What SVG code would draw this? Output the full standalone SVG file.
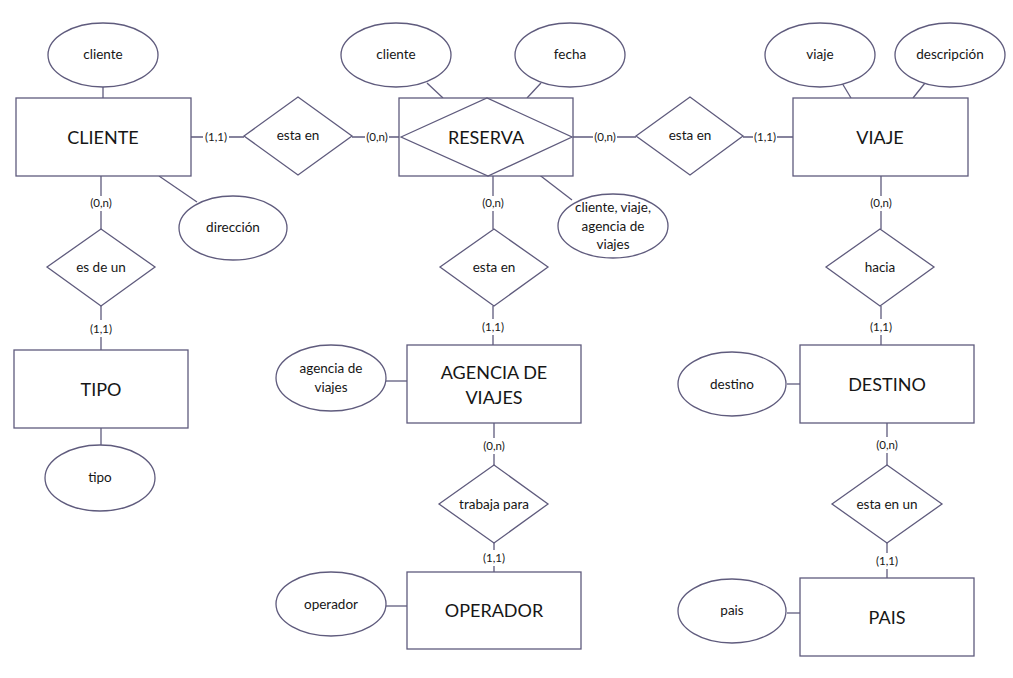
<svg xmlns="http://www.w3.org/2000/svg" width="1013" height="678" viewBox="0 0 1013 678">
<style>
.s{fill:#fff;stroke:#5f5b7d;stroke-width:1.3}
.d{fill:none;stroke:#5f5b7d;stroke-width:1.3}
.c{stroke:#5f5b7d;stroke-width:1.3;fill:none}
text{font-family:Lato,"Liberation Sans",sans-serif;fill:#161616;text-anchor:middle}
.e{font-size:18px}
.a{font-size:13.5px}
.k{font-size:11.5px}
</style>
<rect width="1013" height="678" fill="#fff"/>
<g id="connectors">
<line class="c" x1="103" y1="87" x2="103" y2="98"/>
<line class="c" x1="159" y1="176" x2="197" y2="202"/>
<line class="c" x1="427" y1="83" x2="443" y2="98"/>
<line class="c" x1="541" y1="83" x2="527" y2="98"/>
<line class="c" x1="520" y1="160" x2="572" y2="200"/>
<line class="c" x1="842" y1="83" x2="851" y2="98"/>
<line class="c" x1="925" y1="83" x2="913" y2="98"/>
<line class="c" x1="101" y1="428" x2="101" y2="445"/>
<line class="c" x1="386" y1="381" x2="407" y2="381"/>
<line class="c" x1="386" y1="606" x2="407" y2="606"/>
<line class="c" x1="787" y1="384" x2="800" y2="384"/>
<line class="c" x1="787" y1="613" x2="800" y2="613"/>
<path class="c" d="M191 137H203M229 137H244"/>
<text class="k" x="216" y="141">(1,1)</text>
<path class="c" d="M352 137H365M389 137H401"/>
<text class="k" x="377" y="141">(0,n)</text>
<path class="c" d="M573 137H593M617 137H636"/>
<text class="k" x="605" y="141">(0,n)</text>
<path class="c" d="M743 137H753M777 137H793"/>
<text class="k" x="765" y="141">(1,1)</text>
<path class="c" d="M101 176V196M101 211V229"/>
<text class="k" x="101" y="207">(0,n)</text>
<path class="c" d="M101 306V320M101 337V350"/>
<text class="k" x="101" y="333">(1,1)</text>
<path class="c" d="M493 176V196M493 211V229"/>
<text class="k" x="493" y="207">(0,n)</text>
<path class="c" d="M493 306V319M493 335V345"/>
<text class="k" x="493" y="331">(1,1)</text>
<path class="c" d="M881 176V196M881 211V229"/>
<text class="k" x="881" y="207">(0,n)</text>
<path class="c" d="M881 306V319M881 335V345"/>
<text class="k" x="881" y="331">(1,1)</text>
<path class="c" d="M494 423V438M494 454V465"/>
<text class="k" x="494" y="450">(0,n)</text>
<path class="c" d="M494 543V550M494 566V572"/>
<text class="k" x="494" y="562">(1,1)</text>
<path class="c" d="M887 423V437M887 453V465"/>
<text class="k" x="887" y="449">(0,n)</text>
<path class="c" d="M887 543V553M887 569V578"/>
<text class="k" x="887" y="565">(1,1)</text>
</g>
<g id="cliente">
<rect class="s" x="16" y="98" width="175" height="78"/>
<text class="e" x="103" y="144">CLIENTE</text>
</g>
<g id="attr-cliente">
<ellipse class="s" cx="103" cy="55" rx="55" ry="32"/>
<text class="a" x="103" y="59">cliente</text>
</g>
<g id="attr-direccion">
<ellipse class="s" cx="233" cy="228" rx="54" ry="32"/>
<text class="a" x="233" y="232">dirección</text>
</g>
<g id="rel-esta-en-1">
<polygon class="s" points="244,136 298,97 352,136 298,175"/>
<text class="a" x="298" y="140">esta en</text>
</g>
<g id="rel-es-de-un">
<polygon class="s" points="47,267 101,229 155,267 101,306"/>
<text class="a" x="101" y="272">es de un</text>
</g>
<g id="tipo">
<rect class="s" x="14" y="350" width="174" height="78"/>
<text class="e" x="101" y="396">TIPO</text>
</g>
<g id="attr-tipo">
<ellipse class="s" cx="100" cy="478" rx="55" ry="33"/>
<text class="a" x="100" y="482">tipo</text>
</g>
<g id="reserva">
<rect class="s" x="399" y="98" width="174" height="78"/>
<polygon class="d" points="401,137 487,98 572,137 488,176"/>
<text class="e" x="486" y="144">RESERVA</text>
</g>
<g id="attr-reserva-cliente">
<ellipse class="s" cx="396" cy="55" rx="55" ry="32"/>
<text class="a" x="396" y="59">cliente</text>
</g>
<g id="attr-fecha">
<ellipse class="s" cx="570" cy="55" rx="55" ry="32"/>
<text class="a" x="570" y="59">fecha</text>
</g>
<g id="attr-reserva-clave">
<ellipse class="s" cx="613" cy="226" rx="55" ry="32"/>
<text class="a" x="613" y="212">cliente, viaje,</text>
<text class="a" x="613" y="231">agencia de</text>
<text class="a" x="613" y="249">viajes</text>
</g>
<g id="rel-esta-en-2">
<polygon class="s" points="636,136 690,97 743,136 690,175"/>
<text class="a" x="690" y="140">esta en</text>
</g>
<g id="viaje">
<rect class="s" x="793" y="98" width="175" height="78"/>
<text class="e" x="880" y="144">VIAJE</text>
</g>
<g id="attr-viaje">
<ellipse class="s" cx="820" cy="55" rx="55" ry="32"/>
<text class="a" x="820" y="59">viaje</text>
</g>
<g id="attr-descripcion">
<ellipse class="s" cx="950" cy="55" rx="55" ry="32"/>
<text class="a" x="950" y="59">descripción</text>
</g>
<g id="rel-esta-en-3">
<polygon class="s" points="440,267 494,229 548,267 494,306"/>
<text class="a" x="494" y="272">esta en</text>
</g>
<g id="agencia">
<rect class="s" x="407" y="345" width="174" height="78"/>
<text class="e" x="494" y="379">AGENCIA DE</text>
<text class="e" x="494" y="404">VIAJES</text>
</g>
<g id="attr-agencia">
<ellipse class="s" cx="331" cy="378" rx="55" ry="33"/>
<text class="a" x="331" y="373">agencia de</text>
<text class="a" x="331" y="392">viajes</text>
</g>
<g id="rel-trabaja-para">
<polygon class="s" points="439,504 494,465 548,504 494,543"/>
<text class="a" x="494" y="509">trabaja para</text>
</g>
<g id="operador">
<rect class="s" x="407" y="572" width="174" height="77"/>
<text class="e" x="494" y="617">OPERADOR</text>
</g>
<g id="attr-operador">
<ellipse class="s" cx="331" cy="604" rx="55" ry="32"/>
<text class="a" x="331" y="609">operador</text>
</g>
<g id="rel-hacia">
<polygon class="s" points="826,267 880,229 934,267 880,306"/>
<text class="a" x="880" y="272">hacia</text>
</g>
<g id="destino">
<rect class="s" x="800" y="345" width="174" height="78"/>
<text class="e" x="887" y="391">DESTINO</text>
</g>
<g id="attr-destino">
<ellipse class="s" cx="732" cy="384" rx="54" ry="32"/>
<text class="a" x="732" y="389">destino</text>
</g>
<g id="rel-esta-en-un">
<polygon class="s" points="832,504 887,465 942,504 887,543"/>
<text class="a" x="887" y="509">esta en un</text>
</g>
<g id="pais">
<rect class="s" x="800" y="578" width="174" height="78"/>
<text class="e" x="887" y="624">PAIS</text>
</g>
<g id="attr-pais">
<ellipse class="s" cx="732" cy="611" rx="54" ry="32"/>
<text class="a" x="732" y="615">pais</text>
</g>
</svg>
